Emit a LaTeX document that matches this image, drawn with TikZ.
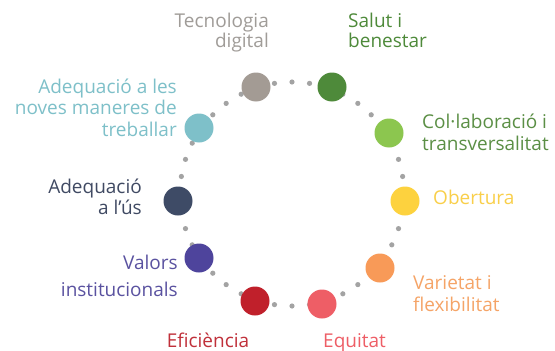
\documentclass[tikz,border=0pt]{standalone}
\usepackage{fontspec}
\setmainfont{Open Sans}
\definecolor{dotgray}{HTML}{A3A3A3}
\definecolor{ctec}{HTML}{A39B94}
\definecolor{ttec}{HTML}{A09C98}
\definecolor{csal}{HTML}{4E8A3A}
\definecolor{ccol}{HTML}{8CC64F}
\definecolor{tcol}{HTML}{5B8F45}
\definecolor{cobe}{HTML}{FDD23E}
\definecolor{tobe}{HTML}{F9CF4A}
\definecolor{cvar}{HTML}{F89A58}
\definecolor{tvar}{HTML}{F5A467}
\definecolor{cequ}{HTML}{EE5E66}
\definecolor{ceff}{HTML}{C0202B}
\definecolor{teff}{HTML}{C0303A}
\definecolor{cval}{HTML}{4E449C}
\definecolor{tval}{HTML}{5A52A0}
\definecolor{cus}{HTML}{3E4B66}
\definecolor{tus}{HTML}{404A63}
\definecolor{cnov}{HTML}{7EC0C9}
\begin{document}
\begin{tikzpicture}[x=1pt,y=-1pt,
  bigdot/.style={circle,minimum size=29pt,inner sep=0pt,draw=none},
  lbl/.style={inner sep=0pt,font=\fontsize{19pt}{22pt}\selectfont},
  lr/.style={lbl,anchor=base east},
  ll/.style={lbl,anchor=base west},
  lc/.style={lbl,anchor=base}]
\useasboundingbox[fill=white] (0,0) rectangle (555,351);
\coordinate (ctr) at (292,194);
\foreach \k in {0,...,39}
  \fill[dotgray] ([shift={({90+9*\k}:112)}]ctr) circle (2.6);
% big circles
\node[bigdot,fill=ctec] (tec) at (256,87) {};
\node[bigdot,fill=csal] (sal) at (332,87) {};
\node[bigdot,fill=cnov] (nov) at (199,128) {};
\node[bigdot,fill=ccol] (col) at (389,133) {};
\node[bigdot,fill=cus] (us) at (178,201) {};
\node[bigdot,fill=cobe] (obe) at (405,201) {};
\node[bigdot,fill=cval] (val) at (199,258) {};
\node[bigdot,fill=cvar] (var) at (380,268) {};
\node[bigdot,fill=ceff] (eff) at (255,301) {};
\node[bigdot,fill=cequ] (equ) at (322,304) {};
% labels
\node[lr,text=ttec] (tecA) at (269,27) {Tecnologia};
\node[lr,text=ttec] (tecB) at (269,47) {digital};
\node[ll,text=csal] (salA) at (348,27) {Salut i};
\node[ll,text=csal] (salB) at (348,47) {benestar};
\node[lr,text=cnov] (novA) at (177,93) {Adequació a les};
\node[lr,text=cnov] (novB) at (177,114) {noves maneres de};
\node[lr,text=cnov] (novC) at (177,136) {treballar};
\node[ll,text=tcol] (colA) at (422,128) {Col·laboració i};
\node[ll,text=tcol] (colB) at (422,150) {transversalitat};
\node[lr,text=tus] (usA) at (142,193) {Adequació};
\node[lr,text=tus] (usB) at (142,214) {a l’ús};
\node[ll,text=tobe] (obeA) at (433,204) {Obertura};
\node[ll,text=tvar] (varA) at (413,289) {Varietat i};
\node[ll,text=tvar] (varB) at (413,311) {flexibilitat};
\node[lr,text=tval] (valA) at (178,269) {Valors};
\node[lr,text=tval] (valB) at (178,296) {institucionals};
\node[lc,text=teff] (effA) at (208,347) {Eficiència};
\node[ll,text=cequ] (equA) at (323,347) {Equitat};
\end{tikzpicture}
\end{document}
